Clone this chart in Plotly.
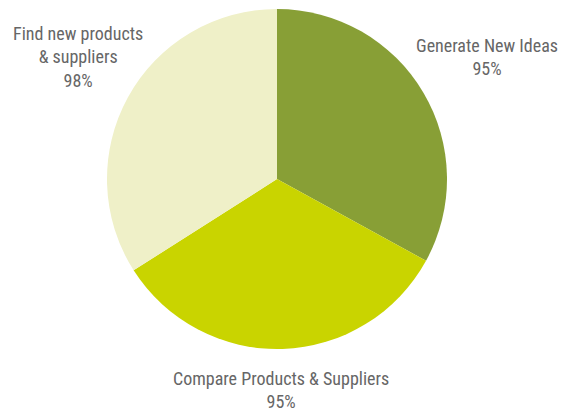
import plotly.graph_objects as go

# Share of respondents per use case
categories = ["Generate New Ideas", "Compare Products & Suppliers", "Find new products<br>& suppliers"]
values = [95, 95, 98]
colors = ["#889f36", "#c9d400", "#eff0c8"]

W, H = 571, 411
cx, cy, r = 277, 179, 170

fig = go.Figure(go.Pie(
    labels=categories,
    values=values,
    sort=False,
    direction="clockwise",
    rotation=0,
    marker=dict(colors=colors, line=dict(width=0)),
    textinfo="none",
    hoverinfo="label+value",
    domain=dict(x=[(cx - r) / W, (cx + r) / W], y=[1 - (cy + r) / H, 1 - (cy - r) / H]),
    showlegend=False,
))

label_pos = [(487, 57), (281, 390), (78, 57)]
for cat, val, (x, y) in zip(categories, values, label_pos):
    fig.add_annotation(
        x=x / W, y=1 - y / H, xref="paper", yref="paper",
        text=f"{cat}<br>{val}%", showarrow=False,
        xanchor="center", yanchor="middle", align="center",
        font=dict(family="Liberation Sans Narrow, Arial Narrow, Roboto Condensed, sans-serif", size=18, color="#666666"),
    )

fig.update_layout(
    width=W, height=H,
    margin=dict(l=0, r=0, t=0, b=0),
    paper_bgcolor="white", plot_bgcolor="white",
)

fig.write_html("out.html")
